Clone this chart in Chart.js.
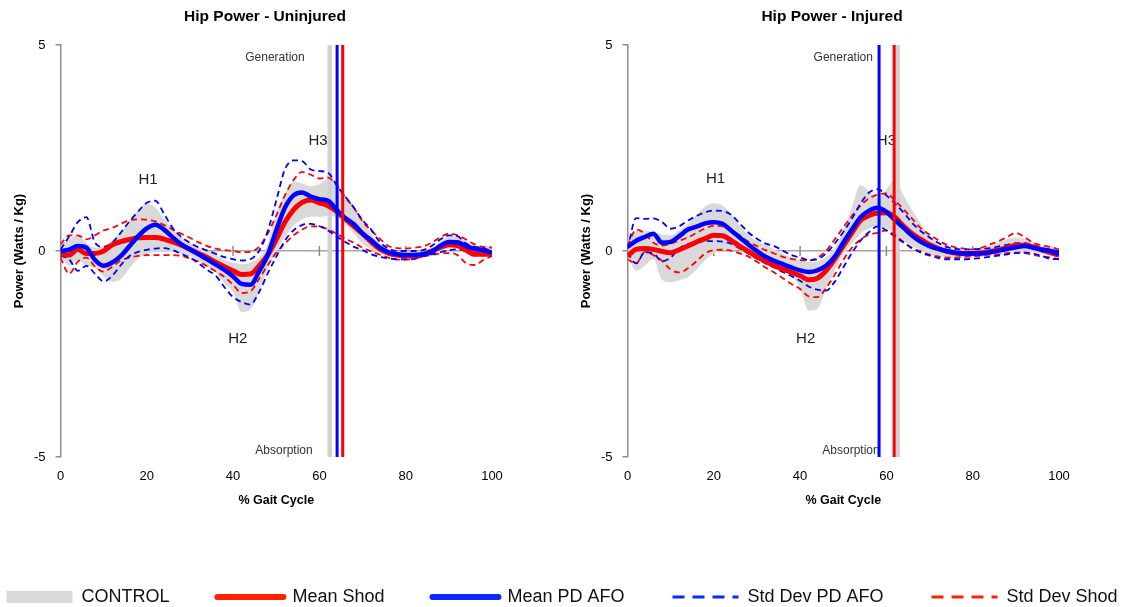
<!DOCTYPE html>
<html>
<head>
<meta charset="utf-8">
<title>Hip Power</title>
<script src="https://cdn.jsdelivr.net/npm/chart.js@4.4.1/dist/chart.umd.min.js"></script>
<style>
  body { margin: 0; background: #fff; }
  #wrap { position: relative; width: 1123px; height: 607px; overflow: hidden; }
  .panel { position: absolute; top: 0; width: 530px; height: 520px; }
  #legendBox { position: absolute; left: -58px; top: 540px; width: 1240px; height: 140px; }
</style>
</head>
<body>
<div id="wrap">
  <div class="panel" style="left:0px"><canvas id="chartUninjured"></canvas></div>
  <div class="panel" style="left:567px"><canvas id="chartInjured"></canvas></div>
  <div id="legendBox"><canvas id="chartLegend"></canvas></div>
</div>
<script>
// % gait cycle
const gaitPct = [0,2,4,6,8,10,12,14,16,18,20,22,24,26,28,30,32,34,36,38,40,42,44,46,48,50,52,54,56,58,60,62,64,66,68,70,72,74,76,78,80,82,84,86,88,90,92,94,96,98,100];
const yTicks = [-5, 0, 5];

// Uninjured side (W/kg)
const uninjCtrlHi = [0.16,0.28,0.38,0.2,0.08, 0.12,0.27,0.48,0.7,1.0, 1.15,1.05,0.78,0.52,0.34, 0.2,0.1,0.0,-0.1,-0.22, -0.28,-0.32,-0.28,-0.16,0.15, 0.93,1.38,1.68,1.64,1.57, 1.62,1.74,1.62,1.35,1.05, 0.75,0.42,0.18,0.06,0.0, -0.01,-0.02,0.02,0.07,0.22, 0.36,0.36,0.24,0.13,0.12, 0.14];
const uninjCtrlLo = [-0.12,-0.36,-0.22,-0.36,-0.42, -0.62,-0.75,-0.68,-0.42,-0.18, -0.06,-0.03,0.0,-0.02,-0.06, -0.12,-0.24,-0.38,-0.52,-0.78, -1.0,-1.48,-1.42,-0.98,-0.45, 0.0,0.34,0.62,0.77,0.83, 0.83,0.85,0.82,0.65,0.42, 0.18,0.04,-0.06,-0.12,-0.16, -0.16,-0.15,-0.13,-0.07,0.0, 0.06,0.05,0.0,-0.05,-0.09, -0.12];
const uninjMeanShod = [-0.08,-0.1,0.04,-0.06,-0.06, 0.0,0.15,0.23,0.28,0.32, 0.33,0.33,0.29,0.22,0.14, 0.04,-0.06,-0.16,-0.27,-0.38, -0.48,-0.57,-0.56,-0.36,-0.1, 0.28,0.7,1.0,1.18,1.24, 1.17,1.1,0.96,0.78,0.6, 0.42,0.22,0.05,-0.05,-0.1, -0.12,-0.12,-0.08,0.0,0.09, 0.15,0.13,0.02,-0.08,-0.08, -0.08];
const uninjMeanAfo = [0.0,0.03,0.12,0.08,-0.22, -0.36,-0.28,-0.12,0.12,0.36, 0.55,0.64,0.52,0.33,0.16, 0.04,-0.08,-0.2,-0.33,-0.46, -0.62,-0.8,-0.82,-0.5,-0.1, 0.5,1.05,1.35,1.42,1.32, 1.26,1.22,1.0,0.8,0.65, 0.42,0.26,0.08,-0.03,-0.08, -0.1,-0.1,-0.08,-0.02,0.12, 0.22,0.21,0.12,0.05,0.02, -0.04];
const uninjAfoSdHi = [0.04,0.35,0.7,0.82,0.2, 0.1,0.2,0.45,0.72,0.96, 1.17,1.22,0.9,0.56,0.34, 0.2,0.09,0.01,-0.07,-0.15, -0.2,-0.23,-0.2,0.0,0.48, 1.22,1.98,2.2,2.18,1.98, 1.94,1.9,1.6,1.32,1.05, 0.75,0.52,0.22,0.06,0.0, 0.0,0.0,0.02,0.12,0.28, 0.38,0.36,0.18,0.1,0.07, 0.0];
const uninjAfoSdLo = [-0.12,-0.2,-0.48,-0.36,-0.55, -0.74,-0.6,-0.34,-0.12,-0.02, 0.03,0.06,0.07,0.02,-0.07, -0.16,-0.3,-0.46,-0.6,-0.88, -1.12,-1.24,-1.3,-1.0,-0.55, -0.14,0.25,0.5,0.63,0.66, 0.6,0.5,0.35,0.22,0.1, 0.02,-0.08,-0.14,-0.18,-0.2, -0.2,-0.19,-0.13,-0.08,-0.03, 0.02,0.04,0.0,-0.05,-0.09, -0.12];
const uninjShodSdHi = [0.16,0.38,0.38,0.28,0.38, 0.5,0.56,0.66,0.75,0.77, 0.76,0.72,0.63,0.52,0.42, 0.32,0.21,0.12,0.06,0.02, 0.0,-0.03,-0.02,0.1,0.42, 0.86,1.35,1.72,1.92,1.85, 1.76,1.78,1.6,1.3,1.05, 0.72,0.5,0.3,0.12,0.07, 0.06,0.08,0.11,0.2,0.33, 0.42,0.38,0.28,0.16,0.1, 0.08];
const uninjShodSdLo = [-0.16,-0.55,-0.26,-0.16,-0.38, -0.5,-0.38,-0.23,-0.16,-0.12, -0.1,-0.1,-0.1,-0.1,-0.12, -0.18,-0.26,-0.37,-0.5,-0.63, -0.82,-1.02,-0.98,-0.68,-0.35, -0.04,0.18,0.38,0.52,0.6, 0.6,0.52,0.42,0.3,0.2, 0.08,-0.01,-0.09,-0.16,-0.21, -0.21,-0.19,-0.13,-0.1,-0.06, -0.05,-0.1,-0.3,-0.34,-0.22, -0.12];

// Injured side (W/kg)
const injCtrlHi = [0.12,0.5,0.5,0.45,0.4, 0.38,0.5,0.67,0.88,1.08, 1.16,1.1,0.9,0.62,0.39, 0.25,0.14,0.04,-0.07,-0.16, -0.23,-0.27,-0.25,-0.15,0.08, 0.5,1.05,1.6,1.45,1.28, 1.5,1.72,1.35,0.98,0.66, 0.38,0.2,0.09,0.05,0.04, 0.05,0.09,0.14,0.2,0.28, 0.32,0.3,0.22,0.13,0.12, 0.06];
const injCtrlLo = [-0.12,-0.48,-0.36,-0.2,-0.7, -0.76,-0.71,-0.64,-0.45,-0.22, -0.06,0.03,0.04,0.02,-0.03, -0.15,-0.27,-0.33,-0.46,-0.6, -0.9,-1.45,-1.41,-0.93,-0.48, -0.08,0.18,0.42,0.55,0.6, 0.55,0.42,0.25,0.12,0.02, -0.07,-0.12,-0.15,-0.16,-0.16, -0.15,-0.14,-0.11,-0.09,-0.05, -0.02,0.0,-0.03,-0.07,-0.11, -0.16];
const injMeanShod = [-0.12,0.04,0.06,0.04,-0.01, -0.04,0.03,0.12,0.22,0.3, 0.38,0.37,0.26,0.12,-0.01, -0.14,-0.25,-0.36,-0.44,-0.52, -0.6,-0.7,-0.66,-0.48,-0.2, 0.12,0.44,0.74,0.86,0.92, 0.93,0.82,0.6,0.42,0.28, 0.15,0.06,-0.01,-0.05,-0.06, -0.06,-0.04,-0.02,0.03,0.08, 0.14,0.14,0.1,0.03,-0.04, -0.1];
const injMeanAfo = [0.1,0.25,0.34,0.42,0.2, 0.22,0.36,0.52,0.59,0.67, 0.7,0.66,0.5,0.33,0.16, 0.0,-0.14,-0.24,-0.32,-0.4, -0.47,-0.51,-0.47,-0.36,-0.14, 0.2,0.52,0.82,0.98,1.05, 0.95,0.75,0.56,0.37,0.22, 0.12,0.05,0.0,-0.04,-0.06, -0.06,-0.06,-0.03,0.01,0.05, 0.09,0.12,0.08,0.03,0.0, -0.08];
const injAfoSdHi = [0.04,0.8,0.78,0.79,0.7, 0.54,0.6,0.74,0.85,0.94, 0.98,0.97,0.88,0.67,0.45, 0.3,0.18,0.12,0.01,-0.1, -0.16,-0.22,-0.2,-0.06,0.18, 0.46,0.78,1.15,1.42,1.5, 1.35,1.15,0.93,0.68,0.48, 0.33,0.2,0.1,0.05,0.04, 0.04,0.05,0.07,0.11,0.15, 0.19,0.19,0.14,0.08,0.03, 0.0];
const injAfoSdLo = [-0.04,-0.3,-0.03,-0.06,-0.25, -0.16,0.06,0.17,0.21,0.24, 0.24,0.23,0.18,0.06,-0.06, -0.19,-0.3,-0.4,-0.51,-0.61, -0.72,-0.86,-0.94,-0.96,-0.75, -0.4,-0.05,0.25,0.46,0.6, 0.5,0.35,0.2,0.07,-0.04, -0.11,-0.17,-0.2,-0.2,-0.2, -0.19,-0.17,-0.14,-0.11,-0.08, -0.05,-0.04,-0.06,-0.12,-0.19, -0.2];
const injShodSdHi = [0.12,0.52,0.42,0.2,0.13, 0.18,0.25,0.33,0.44,0.55, 0.61,0.6,0.51,0.37,0.23, 0.12,0.02,-0.06,-0.14,-0.19, -0.22,-0.23,-0.16,0.0,0.28, 0.57,0.85,1.1,1.28,1.37, 1.4,1.22,1.01,0.78,0.55, 0.4,0.26,0.15,0.09,0.06, 0.04,0.08,0.16,0.24,0.34, 0.44,0.34,0.2,0.14,0.1, 0.04];
const injShodSdLo = [-0.2,-0.3,-0.02,-0.1,-0.24, -0.45,-0.52,-0.42,-0.25,-0.06, 0.02,0.03,0.01,-0.06,-0.13, -0.26,-0.4,-0.52,-0.66,-0.8, -0.92,-1.1,-1.12,-0.9,-0.58, -0.22,0.08,0.28,0.4,0.44, 0.5,0.38,0.22,0.06,-0.01, -0.09,-0.13,-0.16,-0.16,-0.14, -0.13,-0.11,-0.09,-0.08,-0.05, -0.04,-0.05,-0.09,-0.13,-0.16, -0.2];

// toe off (% gait cycle): CONTROL, PD AFO, Shod
const uninjToeOff = [62.4, 64.1, 65.4];
const injToeOff = [62.6, 58.3, 61.8];

// text notes on the plots, anchored in data units
const noteTexts = ['Generation', 'Absorption', 'H1', 'H2', 'H3'];
const uninjNoteX = [49.7, 51.8, 20.3, 41.1, 59.7];
const uninjNoteY = [4.69, -4.85, 1.73, -2.14, 2.68];
const injNoteX = [50.0, 51.8, 20.4, 41.3, 60.0];
const injNoteY = [4.69, -4.85, 1.74, -2.14, 2.68];

const RED = '#ff0000';
const BLUE = '#0000ff';
const BAND = '#d9d9d9';
const AXIS = '#8c8c8c';
const FONT = '"Liberation Sans", Arial, sans-serif';

function pts(values) {
    return gaitPct.map((pct, i) => ({ x: pct, y: values[i] }));
}

function toeOffLine(pct) {
    return [{ x: pct, y: yTicks[0] }, { x: pct, y: yTicks[yTicks.length - 1] }];
}

const panelTitle = {
    id: 'panelTitle',
    afterDraw(chart, args, opts) {
        const ctx = chart.ctx;
        ctx.save();
        ctx.font = 'bold 15.5px ' + FONT;
        ctx.fillStyle = '#000';
        ctx.textAlign = 'center';
        ctx.textBaseline = 'middle';
        ctx.fillText(opts.text, chart.width / 2, 17);
        ctx.restore();
    }
};

// small tick marks across the zero line
const zeroTicks = {
    id: 'zeroTicks',
    beforeDatasetsDraw(chart) {
        const { ctx, scales: { x, y } } = chart;
        const y0 = y.getPixelForValue(0);
        ctx.save();
        ctx.strokeStyle = AXIS;
        ctx.lineWidth = 1.5;
        x.ticks.forEach(t => {
            if (t.value <= x.min || t.value >= x.max) return;
            const px = x.getPixelForValue(t.value);
            ctx.beginPath();
            ctx.moveTo(px, y0 - 5);
            ctx.lineTo(px, y0 + 5);
            ctx.stroke();
        });
        ctx.restore();
    }
};

const gaitNotes = {
    id: 'gaitNotes',
    beforeDatasetsDraw(chart, args, opts) {
        const { ctx, scales: { x, y } } = chart;
        ctx.save();
        ctx.textAlign = 'center';
        ctx.textBaseline = 'middle';
        opts.texts.forEach((txt, i) => {
            const big = txt.length <= 2;
            ctx.font = (big ? '15px ' : '12px ') + FONT;
            ctx.fillStyle = big ? '#222' : '#333';
            ctx.fillText(txt, x.getPixelForValue(opts.xs[i]), y.getPixelForValue(opts.ys[i]));
        });
        ctx.restore();
    }
};

function initHipChart(canvasId, title, s, toeOff, noteX, noteY) {
    const ctx = document.getElementById(canvasId).getContext('2d');
    const dashed = { borderWidth: 1.8, borderDash: [6, 4] };

    new Chart(ctx, {
        type: 'line',
        data: {
            datasets: [
                { label: 'CONTROL', data: pts(s.ctrlHi), borderWidth: 0, borderColor: BAND, backgroundColor: BAND, fill: '+1', order: 8 },
                { label: 'CONTROL low', data: pts(s.ctrlLo), borderWidth: 0, borderColor: BAND, fill: false, order: 9 },
                { label: 'Std Dev Shod', data: pts(s.shodHi), borderColor: RED, ...dashed, order: 5 },
                { label: 'Std Dev Shod low', data: pts(s.shodLo), borderColor: RED, ...dashed, order: 5 },
                { label: 'Std Dev PD AFO', data: pts(s.afoHi), borderColor: BLUE, ...dashed, order: 4 },
                { label: 'Std Dev PD AFO low', data: pts(s.afoLo), borderColor: BLUE, ...dashed, order: 4 },
                { label: 'Mean Shod', data: pts(s.shod), borderColor: RED, borderWidth: 5, order: 3 },
                { label: 'Mean PD AFO', data: pts(s.afo), borderColor: BLUE, borderWidth: 4.5, order: 2 },
                { label: 'Toe off CONTROL', data: toeOffLine(toeOff[0]), borderColor: '#d0d0d0', borderWidth: 4.5, order: 6 },
                { label: 'Toe off PD AFO', data: toeOffLine(toeOff[1]), borderColor: BLUE, borderWidth: 3, order: 1 },
                { label: 'Toe off Shod', data: toeOffLine(toeOff[2]), borderColor: RED, borderWidth: 3, order: 1 }
            ]
        },
        options: {
            responsive: true,
            maintainAspectRatio: false,
            animation: false,
            events: [],
            layout: { padding: { top: 45, right: 38, left: 0, bottom: 0 } },
            elements: {
                point: { radius: 0 },
                line: { cubicInterpolationMode: 'monotone' }
            },
            plugins: {
                legend: { display: false },
                tooltip: { enabled: false },
                panelTitle: { text: title },
                gaitNotes: { texts: noteTexts, xs: noteX, ys: noteY }
            },
            scales: {
                x: {
                    type: 'linear',
                    min: 0,
                    max: 100,
                    afterFit(scale) { scale.height = 63; },
                    grid: { display: false, drawTicks: false },
                    border: { display: false },
                    ticks: { stepSize: 20, padding: 12, color: '#000', font: { family: FONT, size: 13 } },
                    title: { display: true, text: '% Gait Cycle', color: '#000', padding: { top: 0, bottom: 12 }, font: { family: FONT, size: 12.5, weight: 'bold' } }
                },
                y: {
                    min: yTicks[0],
                    max: yTicks[yTicks.length - 1],
                    afterFit(scale) { scale.width = 60.5; },
                    afterBuildTicks(scale) { scale.ticks = yTicks.map(v => ({ value: v })); },
                    grid: {
                        color: c => (c.tick && c.tick.value === 0 ? '#a6a6a6' : 'rgba(0,0,0,0)'),
                        lineWidth: 1.5,
                        tickColor: AXIS,
                        tickLength: 5
                    },
                    border: { display: true, color: AXIS, width: 1.5 },
                    ticks: { padding: 10, color: '#000', font: { family: FONT, size: 13 } },
                    title: { display: true, text: 'Power (Watts / Kg)', color: '#000', padding: { top: 12, bottom: 0 }, font: { family: FONT, size: 13, weight: 'bold' } }
                }
            }
        },
        plugins: [panelTitle, zeroTicks, gaitNotes]
    });
}

function initLegend(canvasId) {
    const ctx = document.getElementById(canvasId).getContext('2d');
    new Chart(ctx, {
        type: 'line',
        data: {
            datasets: [
                { label: 'CONTROL', data: [], backgroundColor: BAND, borderColor: BAND, borderWidth: 0, pointStyle: 'rect' },
                { label: 'Mean Shod', data: [], borderColor: '#ff2200', backgroundColor: '#ff2200', borderWidth: 6, borderCapStyle: 'round', pointStyle: 'line' },
                { label: 'Mean PD AFO', data: [], borderColor: '#0a28ff', backgroundColor: '#0a28ff', borderWidth: 6, borderCapStyle: 'round', pointStyle: 'line' },
                { label: 'Std Dev PD AFO', data: [], borderColor: '#0a28ff', backgroundColor: '#0a28ff', borderWidth: 3, borderDash: [12, 8], pointStyle: 'line' },
                { label: 'Std Dev Shod', data: [], borderColor: '#ff2200', backgroundColor: '#ff2200', borderWidth: 3, borderDash: [12, 8], pointStyle: 'line' }
            ]
        },
        options: {
            responsive: true,
            maintainAspectRatio: false,
            animation: false,
            events: [],
            scales: { x: { display: false }, y: { display: false } },
            plugins: {
                tooltip: { enabled: false },
                legend: {
                    position: 'top',
                    labels: {
                        usePointStyle: true,
                        pointStyleWidth: 66,
                        boxHeight: 12,
                        padding: 48,
                        color: '#111',
                        font: { family: FONT, size: 18 },
                        generateLabels(chart) {
                            return chart.data.datasets.map((ds, i) => ({
                                text: ds.label,
                                fillStyle: ds.backgroundColor,
                                strokeStyle: ds.borderColor,
                                lineWidth: ds.borderWidth,
                                lineDash: ds.borderDash || [],
                                lineCap: ds.borderCapStyle || 'butt',
                                pointStyle: ds.pointStyle,
                                fontColor: '#111',
                                hidden: false,
                                datasetIndex: i
                            }));
                        }
                    }
                }
            }
        }
    });
}

document.addEventListener('DOMContentLoaded', function () {
    initHipChart('chartUninjured', 'Hip Power - Uninjured', {
        ctrlHi: uninjCtrlHi, ctrlLo: uninjCtrlLo,
        shod: uninjMeanShod, afo: uninjMeanAfo,
        afoHi: uninjAfoSdHi, afoLo: uninjAfoSdLo,
        shodHi: uninjShodSdHi, shodLo: uninjShodSdLo
    }, uninjToeOff, uninjNoteX, uninjNoteY);

    initHipChart('chartInjured', 'Hip Power - Injured', {
        ctrlHi: injCtrlHi, ctrlLo: injCtrlLo,
        shod: injMeanShod, afo: injMeanAfo,
        afoHi: injAfoSdHi, afoLo: injAfoSdLo,
        shodHi: injShodSdHi, shodLo: injShodSdLo
    }, injToeOff, injNoteX, injNoteY);

    initLegend('chartLegend');
});
</script>
</body>
</html>
